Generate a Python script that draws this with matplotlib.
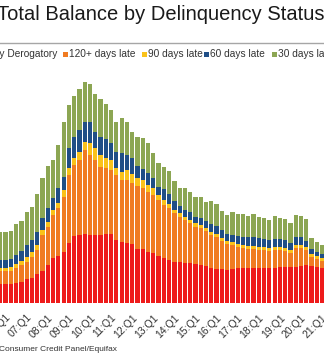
import matplotlib
matplotlib.use("Agg")
import matplotlib.pyplot as plt
from matplotlib.patches import Rectangle
from matplotlib.lines import Line2D
import numpy as np

plt.rcParams['font.family'] = ['Liberation Sans', 'DejaVu Sans']

# ---------------- data (arbitrary units) ----------------
quarters = [f"{(2005 + (i + 3) // 4) % 100:02d}:Q{(i + 3) % 4 + 1}" for i in range(62)]  # 05:Q4 .. 21:Q1

severely_derogatory = [19.3, 19.3, 19.3, 20.3, 21.8, 24.3, 25.6, 29.3, 32.3, 38.3,
                       45.6, 47.3, 51.6, 60.0, 67.3, 68.3, 69.0, 68.3, 68.3, 68.3,
                       69.0, 69.6, 63.3, 61.6, 60.6, 59.3, 54.3, 54.3, 51.6, 50.0,
                       47.3, 45.0, 43.3, 41.6, 41.0, 40.0, 40.0, 39.0, 38.3, 37.3,
                       35.6, 34.3, 34.0, 33.3, 34.0, 35.0, 35.0, 35.0, 35.0, 35.3,
                       35.6, 35.6, 35.6, 36.0, 36.0, 36.6, 36.6, 37.8, 38.3, 37.3,
                       36.0, 35.3]
late_120 = [13.0, 13.0, 13.5, 15.0, 16.5, 17.3, 21.0, 24.0, 36.0, 38.3,
            42.7, 47.7, 55.0, 68.3, 71.0, 75.0, 84.3, 80.0, 75.0, 68.3,
            66.0, 63.7, 65.0, 61.7, 62.7, 60.7, 63.0, 60.7, 60.0, 58.3,
            56.0, 53.3, 51.7, 48.4, 45.6, 43.3, 40.0, 37.6, 36.7, 35.0,
            32.7, 32.0, 28.3, 26.0, 24.3, 21.3, 20.3, 19.3, 19.3, 18.0,
            17.7, 16.7, 17.7, 17.3, 16.3, 13.7, 18.7, 17.5, 15.0, 9.0,
            8.3, 7.0]
late_90 = [3.3, 3.3, 3.8, 4.0, 4.0, 5.0, 5.0, 5.0, 5.0, 5.0,
           5.0, 5.0, 6.7, 6.7, 6.7, 8.3, 8.3, 11.7, 11.7, 11.7,
           10.0, 10.0, 6.7, 8.3, 10.0, 9.3, 7.7, 8.3, 6.7, 6.7,
           5.0, 5.0, 4.0, 3.8, 3.6, 3.5, 3.5, 3.5, 3.5, 3.3,
           3.2, 3.0, 3.0, 3.0, 3.0, 3.0, 3.0, 3.0, 3.0, 3.0,
           3.0, 3.0, 3.0, 3.0, 3.0, 3.0, 3.0, 3.0, 3.0, 3.0,
           3.0, 3.0]
late_60 = [7.7, 7.7, 7.7, 9.0, 10.0, 11.7, 11.7, 13.3, 11.7, 13.4,
           11.7, 15.0, 13.3, 20.0, 21.6, 21.7, 20.0, 21.6, 16.6, 18.3,
           19.3, 16.7, 16.0, 18.4, 15.0, 15.7, 12.3, 10.7, 11.7, 10.0,
           7.7, 10.7, 10.0, 8.3, 7.3, 6.7, 7.4, 6.6, 6.7, 6.3,
           8.0, 8.0, 8.0, 7.0, 7.0, 8.0, 8.0, 9.0, 9.0, 9.0,
           8.0, 8.0, 8.0, 8.0, 8.0, 7.0, 8.0, 8.0, 6.0, 5.0,
           4.0, 4.0]
late_30 = [28.0, 28.0, 28.0, 31.0, 30.0, 33.3, 33.3, 37.7, 40.0, 42.6,
           38.3, 43.3, 55.0, 43.3, 41.0, 41.0, 40.0, 37.4, 37.7, 37.7,
           34.7, 33.3, 30.6, 35.6, 32.7, 26.6, 29.3, 31.6, 30.0, 25.0,
           24.6, 22.6, 23.3, 20.7, 17.7, 22.3, 20.6, 19.4, 20.7, 19.0,
           23.0, 22.0, 19.0, 19.0, 22.7, 22.0, 23.0, 21.3, 23.3, 21.3,
           20.7, 19.7, 23.0, 21.3, 20.7, 20.3, 22.0, 21.0, 21.7, 11.3,
           10.3, 9.0]

series_names = ["Severely Derogatory", "120+ days late", "90 days late",
                "60 days late", "30 days late"]
series_values = [severely_derogatory, late_120, late_90, late_60, late_30]
colors = ["#EE1B1B", "#F07B22", "#FAC21A", "#1F4E86", "#8CA653"]

tick_labels = ["06:Q1", "07:Q1", "08:Q1", "09:Q1", "10:Q1", "11:Q1", "12:Q1", "13:Q1",
               "14:Q1", "15:Q1", "16:Q1", "17:Q1", "18:Q1", "19:Q1", "20:Q1", "21:Q1"]

title = "Total Balance by Delinquency Status"
source = "Consumer Credit Panel/Equifax"

# ---------------- figure ----------------
W, H = 324, 355
fig = plt.figure(figsize=(W / 100, H / 100), dpi=100)

def fx(px):
    return px / W

def fy(py):
    return 1 - py / H

pitch = 5.275
x0 = 5.6  # pixel x of first "06:Q1" bar centre
base_px = 303.3
top_px = 75.0
ax = fig.add_axes([0, fy(base_px), 1, (base_px - top_px) / H])
ax.set_xlim((0 - x0) / pitch + 1, (W - x0) / pitch + 1)
ax.set_ylim(0, base_px - top_px)

x = np.arange(len(quarters))
bottom = np.zeros(len(quarters))
for name, vals, c in zip(series_names, series_values, colors):
    vals = np.asarray(vals)
    ax.bar(x, vals, bottom=bottom, width=0.80, color=c, linewidth=0, label=name)
    bottom += vals

tick_pos = [quarters.index(t) for t in tick_labels]
ax.set_xticks(tick_pos)
ax.set_xticklabels(tick_labels, rotation=45, ha="right", va="top",
                   rotation_mode="anchor", fontsize=7.5, color="#333333")
ax.tick_params(axis="x", length=0, pad=6.5)
ax.set_yticks([])
for s in ax.spines.values():
    s.set_visible(False)

# title
fig.text(fx(-3), fy(19.5), title, fontsize=14.5, color="#1a1a1a",
         ha="left", va="baseline")
# separator line
fig.add_artist(Line2D([0, 1], [fy(42.7), fy(42.7)], color="#A6A6A6", lw=1.0,
                      transform=fig.transFigure))

# legend (manually placed, partially cropped like the reference)
leg_base = 56.8
leg_fs = 7.3
fig.text(fx(57.5), fy(leg_base), series_names[0], fontsize=leg_fs, color="#333333",
         ha="right", va="baseline")
leg_items = [(62.8, 69.0), (141.8, 147.7), (203.8, 210.0), (271.8, 277.7)]
for (sq, tx), name, c in zip(leg_items, series_names[1:], colors[1:]):
    fig.add_artist(Rectangle((fx(sq), fy(56.8)), 5.0 / W, 5.0 / H, color=c,
                             transform=fig.transFigure, linewidth=0))
    fig.text(fx(tx), fy(leg_base), name, fontsize=leg_fs, color="#333333",
             ha="left", va="baseline")

# source
fig.text(fx(-1), fy(351), source, fontsize=6.0, color="#333333",
         ha="left", va="baseline")

fig.savefig("out.png", dpi=100)
